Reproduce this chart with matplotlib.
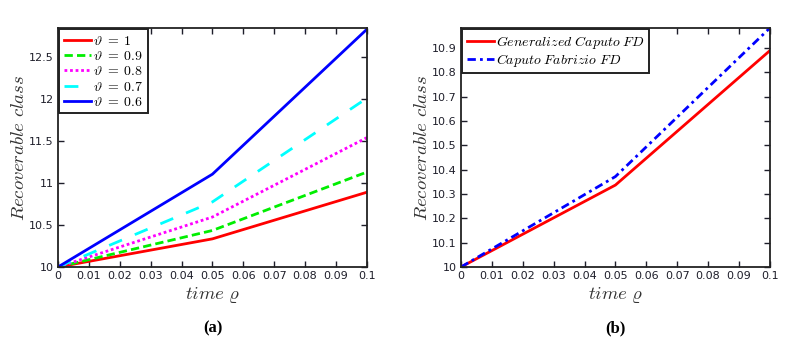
import matplotlib
matplotlib.use("Agg")
import matplotlib.pyplot as plt

plt.rcParams["mathtext.fontset"] = "cm"
plt.rcParams["font.family"] = "DejaVu Sans"

# time points
t = [0, 0.05, 0.1]

# panel (a): recoverable class for different orders
theta_labels = ["1", "0.9", "0.8", "0.7", "0.6"]
r_theta_1 = [10, 10.335, 10.89]
r_theta_09 = [10, 10.435, 11.13]
r_theta_08 = [10, 10.595, 11.54]
r_theta_07 = [10, 10.775, 12.01]
r_theta_06 = [10, 11.105, 12.83]

# panel (b): generalized Caputo vs Caputo-Fabrizio
r_gen_caputo = [10, 10.337, 10.89]
r_caputo_fab = [10, 10.372, 10.983]

xticks = [0, 0.01, 0.02, 0.03, 0.04, 0.05, 0.06, 0.07, 0.08, 0.09, 0.1]
xticklabels = ["0", "0.01", "0.02", "0.03", "0.04", "0.05", "0.06", "0.07", "0.08", "0.09", "0.1"]
yticks_a = [10, 10.5, 11, 11.5, 12, 12.5]
yticklabels_a = ["10", "10.5", "11", "11.5", "12", "12.5"]
yticks_b = [10, 10.1, 10.2, 10.3, 10.4, 10.5, 10.6, 10.7, 10.8, 10.9]
yticklabels_b = ["10", "10.1", "10.2", "10.3", "10.4", "10.5", "10.6", "10.7", "10.8", "10.9"]


def style_axes(ax, yticks, yticklabels):
    ax.set_xlim(0, 0.1)
    ax.set_xticks(xticks)
    ax.set_xticklabels(xticklabels)
    ax.set_yticks(yticks)
    ax.set_yticklabels(yticklabels)
    ax.tick_params(direction="in", top=True, right=True, length=4, width=1,
                   labelsize=8, colors="#1e1e2a", pad=3)
    for sp in ax.spines.values():
        sp.set_linewidth(1.3)
        sp.set_color("#222222")
    ax.set_xlabel(r"$time\ \varrho$", fontsize=13.5, color="#333333", labelpad=3)
    ax.set_ylabel(r"$Recoverable\ class$", fontsize=13.5, color="#333333", labelpad=1)


def style_legend(ax):
    leg = ax.legend(loc="upper left", fontsize=10, frameon=True, fancybox=False,
                    borderaxespad=0.1, handlelength=2.0, handletextpad=0.15,
                    borderpad=0.3, labelspacing=0.1, framealpha=1)
    leg.get_frame().set_edgecolor("#222222")
    leg.get_frame().set_linewidth(1.4)
    return leg


fig = plt.figure(figsize=(7.88, 3.39), dpi=100)
ax1 = fig.add_axes([0.0736, 0.2124, 0.392, 0.705])
ax2 = fig.add_axes([0.585, 0.2124, 0.392, 0.705])

series_a = [r_theta_1, r_theta_09, r_theta_08, r_theta_07, r_theta_06]
colors_a = ["#ff0000", "#00ee00", "#ff00ff", "#00ffff", "#0000ff"]
dashes_a = [None, (3, 1.5), (1, 1), (5, 5), None]
for y, c, d, lab in zip(series_a, colors_a, dashes_a, theta_labels):
    line, = ax1.plot(t, y, color=c, lw=2, label=r"$\vartheta\;=\;%s$" % lab)
    if d is not None:
        line.set_dashes(d)
ax1.set_ylim(10, 12.845)
style_axes(ax1, yticks_a, yticklabels_a)
style_legend(ax1)

ax2.plot(t, r_gen_caputo, color="#ff0000", lw=2, label=r"$Generalized\ Caputo\ FD$")
ax2.plot(t, r_caputo_fab, color="#0000ff", lw=2, dashes=(3, 1.5, 1, 1.5),
         label=r"$Caputo\ Fabrizio\ FD$")
ax2.set_ylim(10, 10.983)
style_axes(ax2, yticks_b, yticklabels_b)
style_legend(ax2)

fig.text(0.2696, 0.03, "(a)", ha="center", va="center", fontsize=12,
         fontweight="bold", family="Liberation Serif")
fig.text(0.781, 0.03, "(b)", ha="center", va="center", fontsize=12,
         fontweight="bold", family="Liberation Serif")

fig.savefig("out.png", dpi=100)
